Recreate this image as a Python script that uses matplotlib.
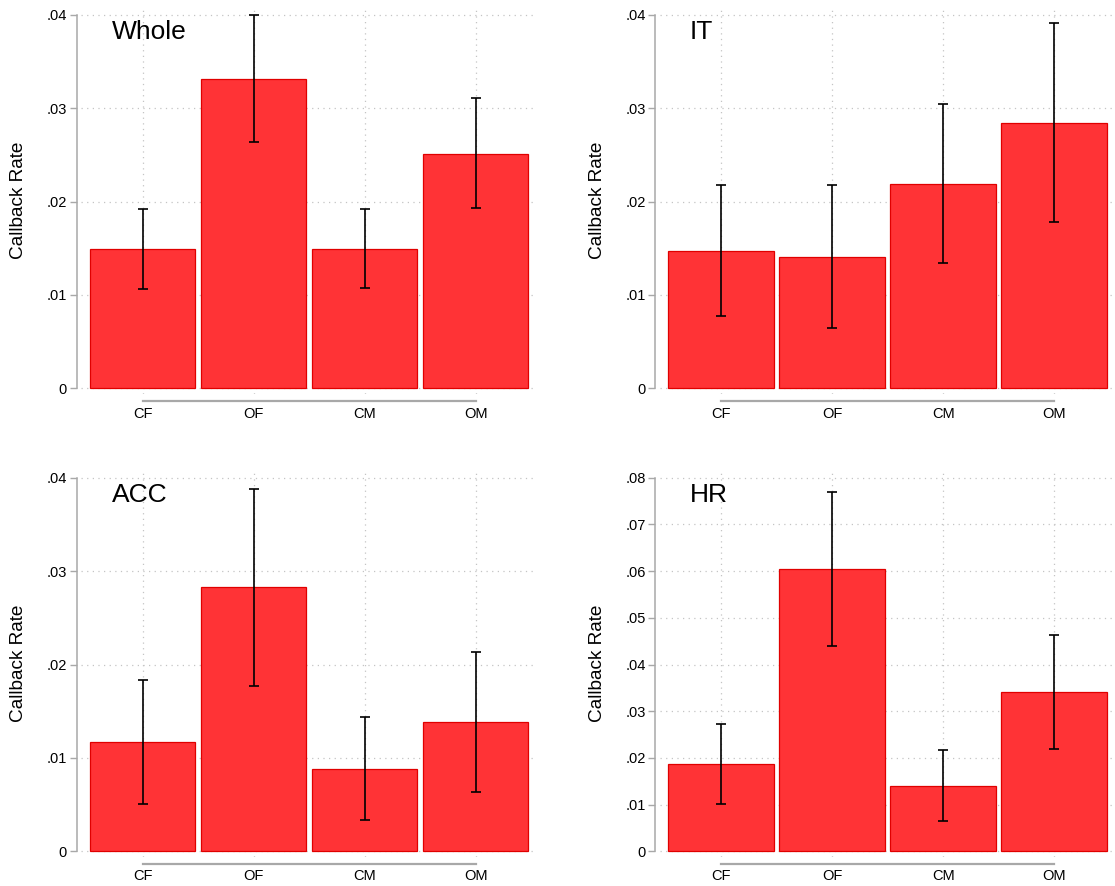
import matplotlib
matplotlib.use('Agg')
import matplotlib.pyplot as plt
from matplotlib.ticker import FuncFormatter

plt.rcParams['font.family'] = ['Liberation Sans', 'DejaVu Sans']

# data
groups = ['CF', 'OF', 'CM', 'OM']
panels = ['Whole', 'IT', 'ACC', 'HR']

whole_rate = [0.01488, 0.03315, 0.01495, 0.02512]
whole_lo = [0.01067, 0.02637, 0.01078, 0.01930]
whole_hi = [0.01920, 0.03996, 0.01923, 0.03108]

it_rate = [0.01474, 0.01410, 0.02191, 0.02844]
it_lo = [0.00778, 0.00646, 0.01338, 0.01784]
it_hi = [0.02180, 0.02177, 0.03044, 0.03907]

acc_rate = [0.01166, 0.02827, 0.00881, 0.01380]
acc_lo = [0.00510, 0.01775, 0.00339, 0.00638]
acc_hi = [0.01832, 0.03882, 0.01433, 0.02139]

hr_rate = [0.01861, 0.06039, 0.01398, 0.03401]
hr_lo = [0.01005, 0.04399, 0.00649, 0.02189]
hr_hi = [0.02717, 0.07693, 0.02175, 0.04635]

y_max = [0.04, 0.04, 0.04, 0.08]

series = [(whole_rate, whole_lo, whole_hi),
          (it_rate, it_lo, it_hi),
          (acc_rate, acc_lo, acc_hi),
          (hr_rate, hr_lo, hr_hi)]

bar_color = '#FF3336'
edge_color = '#E00000'
axis_gray = '#A8A8A8'
grid_gray = '#C4C4C4'

fig = plt.figure(figsize=(11.15, 8.86), dpi=100)

W, H = 1115.0, 886.0
# axes boxes in pixels: left, top, right, bottom
boxes = [(81, 7, 537, 394), (659.5, 7, 1115.5, 394),
         (81, 470, 537, 857), (659.5, 470, 1115.5, 857)]

for i, (name, (rate, lo, hi), ymx, box) in enumerate(zip(panels, series, y_max, boxes)):
    l, t, r, b = box
    ax = fig.add_axes([l / W, 1 - b / H, (r - l) / W, (b - t) / H])
    x = list(range(len(groups)))
    ax.bar(x, rate, width=0.95, color=bar_color, edgecolor=edge_color,
           linewidth=0.9, zorder=3)
    err_lo = [v - a for v, a in zip(rate, lo)]
    err_hi = [c - v for v, c in zip(rate, hi)]
    ax.errorbar(x, rate, yerr=[err_lo, err_hi], fmt='none', ecolor='black',
                elinewidth=1.2, capsize=3.4, capthick=1.2, zorder=4)

    # y range with a small margin like Stata's plot region
    px_per_unit = (b - t - 14.4) / ymx
    ax.set_ylim(-5.7 / px_per_unit, ymx + 7.7 / px_per_unit)
    ax.set_xlim(-0.555, 3.552)

    step = 0.01
    ticks = [k * step for k in range(int(round(ymx / step)) + 1)]
    ax.set_yticks(ticks)
    ax.yaxis.set_major_formatter(FuncFormatter(
        lambda v, p: '0' if abs(v) < 1e-12 else ('%.2f' % v).lstrip('0')))
    ax.set_xticks(x)
    ax.set_xticklabels(groups)

    ax.grid(True, linestyle=(0, (1, 3.5)), color=grid_gray, linewidth=0.9, zorder=0)

    for s in ['top', 'right']:
        ax.spines[s].set_visible(False)
    ax.spines['left'].set_bounds(0, ymx)
    ax.spines['left'].set_position(('outward', 3.2))
    ax.spines['left'].set_color(axis_gray)
    ax.spines['left'].set_linewidth(1.1)
    ax.spines['bottom'].set_bounds(0, 3)
    ax.spines['bottom'].set_position(('outward', 5))
    ax.spines['bottom'].set_color(axis_gray)
    ax.spines['bottom'].set_linewidth(1.6)

    ax.tick_params(axis='y', length=4.8, width=1.0, color=axis_gray, pad=2,
                   labelsize=10.5, labelcolor='black')
    ax.tick_params(axis='x', length=0, pad=4, labelsize=10.5, labelcolor='black')

    ax.set_ylabel('Callback Rate', fontsize=13.7)
    ax.yaxis.set_label_coords(-0.118, 0.5)

    ax.text(0.067, 0.9165, name, transform=ax.transAxes, fontsize=19,
            ha='left', va='baseline', color='black')

plt.savefig('out.png', dpi=100)
